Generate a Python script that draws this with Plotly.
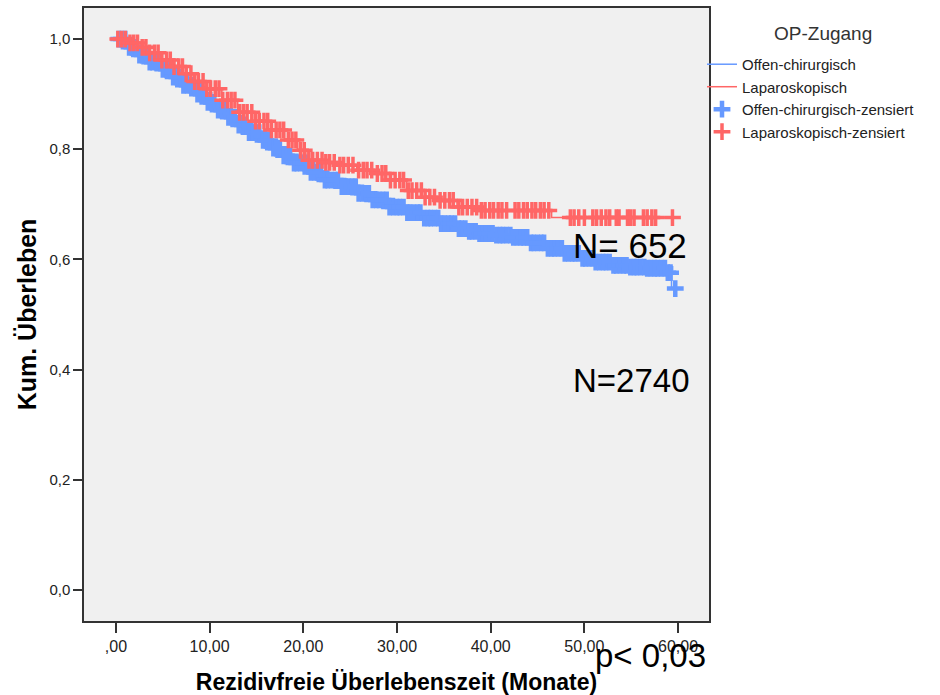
import numpy as np
import plotly.graph_objects as go

# ---- data ----
open_t = [0, 1.2, 2.4, 3.6, 4.8, 6.0, 7.2, 8.4, 9.5, 10.7, 11.9, 13.0, 14.2, 15.4, 16.6, 17.8,
          19.0, 20.5, 22.1, 23.9, 25.7, 27.4, 29.2, 31.0, 32.7, 34.5, 36.4, 37.6, 38.8, 40.5,
          42.3, 44.1, 45.9, 47.7, 49.5, 51.2, 53.0, 54.8, 56.6, 58.7, 59.3, 59.7]
open_s = [1.0, 0.985, 0.971, 0.958, 0.945, 0.931, 0.916, 0.900, 0.885, 0.871, 0.858, 0.844,
          0.830, 0.816, 0.802, 0.788, 0.775, 0.758, 0.744, 0.732, 0.720, 0.708, 0.695, 0.685,
          0.675, 0.665, 0.656, 0.651, 0.647, 0.644, 0.640, 0.630, 0.620, 0.611, 0.602, 0.595,
          0.589, 0.586, 0.584, 0.576, 0.547, 0.547]

lap_t = [0, 1.2, 2.4, 3.6, 4.8, 6.0, 7.2, 8.4, 9.5, 11.3, 13.0, 14.8, 16.6, 18.0, 19.4, 20.4,
         22.1, 23.9, 25.7, 27.4, 29.2, 31.0, 32.7, 34.5, 36.4, 38.8, 46.5, 59.5]
lap_s = [1.0, 0.993, 0.985, 0.975, 0.962, 0.950, 0.937, 0.923, 0.910, 0.889, 0.867, 0.851,
         0.835, 0.817, 0.798, 0.780, 0.776, 0.771, 0.762, 0.756, 0.744, 0.725, 0.713, 0.707,
         0.695, 0.689, 0.676, 0.676]

open_cens = [0.3, 0.6, 1.0, 1.4, 1.7, 2.1, 2.5, 2.8, 3.2, 3.6, 3.9, 4.3, 4.7, 5.0, 5.4, 5.8, 6.1,
             6.5, 6.9, 7.2, 7.6, 8.0, 8.3, 8.7, 9.1, 9.4, 9.8, 10.2, 10.5, 10.9, 11.3, 11.6, 12.0,
             12.4, 12.7, 13.1, 13.5, 13.8, 14.2, 14.6, 14.9, 15.3, 15.7, 16.0, 16.4, 16.8, 17.1,
             17.5, 17.9, 18.2, 18.6, 19.0, 19.3, 19.7, 20.1, 20.4, 20.8, 21.2, 21.5, 21.9, 22.3,
             22.6, 23.0, 23.4, 23.7, 24.1, 24.5, 24.8, 25.2, 25.6, 25.9, 26.3, 26.7, 27.0, 27.4,
             27.8, 28.1, 28.5, 28.9, 29.2, 29.6, 30.0, 30.3, 30.7, 31.1, 31.4, 31.8, 32.2, 32.5,
             32.9, 33.3, 33.6, 34.0, 34.4, 34.7, 35.1, 35.5, 35.8, 36.2, 36.6, 36.9, 37.3, 37.7,
             38.0, 38.4, 38.8, 39.1, 39.5, 39.9, 40.2, 40.6, 41.0, 41.3, 41.7, 42.1, 42.4, 42.8,
             43.2, 43.5, 43.9, 44.3, 44.6, 45.0, 45.4, 45.7, 46.1, 46.5, 46.8, 47.2, 47.6, 47.9,
             48.3, 48.7, 49.0, 49.4, 49.8, 50.1, 50.5, 50.9, 51.2, 51.6, 52.0, 52.3, 52.7, 53.1,
             53.4, 53.8, 54.2, 54.5, 54.9, 55.3, 55.6, 56.0, 56.4, 56.7, 57.1, 57.5, 57.8, 58.2,
             58.6, 58.9, 59.2, 59.7]

lap_cens = [0.2, 0.6, 1.0, 1.5, 1.9, 2.3, 2.8, 3.2, 3.6, 4.1, 4.5, 4.9, 5.4, 5.8, 6.2, 6.7, 7.1,
            7.5, 8.0, 8.4, 8.8, 9.3, 9.7, 10.1, 10.6, 11.0, 11.4, 11.9, 12.3, 12.7, 13.2, 13.6,
            14.0, 14.5, 14.9, 15.3, 15.8, 16.2, 16.6, 17.1, 17.5, 17.9, 18.4, 18.8, 19.2, 19.7,
            20.1, 20.6, 21.0, 21.5, 22.0, 22.4, 22.8, 23.3, 23.9, 24.3, 24.8, 25.3, 25.9, 26.4,
            26.8, 27.3, 27.9, 28.4, 28.8, 29.3, 29.8, 30.3, 30.7, 31.2, 31.6, 32.1, 32.6, 33.0,
            33.5, 34.0, 34.6, 35.1, 35.6, 36.0, 36.6, 37.0, 37.5, 38.0, 38.5, 39.0, 39.4, 39.9,
            40.3, 40.8, 41.2, 41.7, 42.6, 43.0, 43.5, 43.9, 44.4, 44.8, 45.3, 45.7, 46.2, 48.5,
            48.9, 49.4, 50.0, 50.9, 51.3, 51.8, 52.3, 52.7, 53.4, 53.7, 54.6, 54.9, 55.3, 56.3,
            56.7, 57.2, 57.6, 59.4]

x_tickvals = [0, 10, 20, 30, 40, 50, 60]
x_ticktext = [",00", "10,00", "20,00", "30,00", "40,00", "50,00", "60,00"]
y_tickvals = [0.0, 0.2, 0.4, 0.6, 0.8, 1.0]
y_ticktext = ["0,0", "0,2", "0,4", "0,6", "0,8", "1,0"]

BLUE = "#6699FF"
RED = "#FF6666"
FONT = "Arial, Liberation Sans, sans-serif"


def km_at(times, surv, pts):
    idx = np.searchsorted(np.array(times), np.array(pts), side="right") - 1
    return [surv[i] for i in idx]


fig = go.Figure()
fig.add_trace(go.Scatter(x=open_t, y=open_s, mode="lines", line=dict(color=BLUE, width=1.5, shape="hv"),
                         name="Offen-chirurgisch", legendrank=1))
fig.add_trace(go.Scatter(x=open_cens, y=km_at(open_t, open_s, open_cens), mode="markers",
                         marker=dict(symbol="cross-thin", size=12, line=dict(color=BLUE, width=4.5)),
                         name="Offen-chirurgisch-zensiert", legendrank=3))
fig.add_trace(go.Scatter(x=lap_t, y=lap_s, mode="lines", line=dict(color=RED, width=1.5, shape="hv"),
                         name="Laparoskopisch", legendrank=2))
fig.add_trace(go.Scatter(x=lap_cens, y=km_at(lap_t, lap_s, lap_cens), mode="markers",
                         marker=dict(symbol="cross-thin", size=12, line=dict(color=RED, width=3.5)),
                         name="Laparoskopisch-zensiert", legendrank=4))

fig.add_annotation(x=48.6, y=0.6255, xref="x", yref="y", text="N= 652", showarrow=False,
                   xanchor="left", yanchor="middle", font=dict(family=FONT, size=35, color="black"))
fig.add_annotation(x=48.6, y=0.38, xref="x", yref="y", text="N=2740", showarrow=False,
                   xanchor="left", yanchor="middle", font=dict(family=FONT, size=33, color="black"))
fig.add_annotation(x=0.8144, y=-0.0555, xref="paper", yref="paper", text="p< 0,03", showarrow=False,
                   xanchor="left", yanchor="middle", font=dict(family=FONT, size=33, color="black"))
# legend heading
fig.add_annotation(x=1.1824, y=0.9584, xref="paper", yref="paper", text="OP-Zugang", showarrow=False,
                   xanchor="center", yanchor="middle", font=dict(family=FONT, size=19, color="#333333"))

axis_common = dict(showgrid=False, zeroline=False, showline=True, mirror=True, linecolor="#333333",
                   linewidth=1.5, ticks="outside", tickwidth=1.5, tickcolor="#333333")

fig.update_layout(
    width=940, height=695,
    margin=dict(l=84, r=231, t=8, b=74),
    paper_bgcolor="white", plot_bgcolor="#F0F0F0",
    xaxis=dict(range=[-3.41, 63.3], tickvals=x_tickvals, ticktext=x_ticktext, ticklen=10,
               tickfont=dict(family=FONT, size=16, color="#222222"),
               title=dict(text="<b>Rezidivfreie Überlebenszeit (Monate)</b>", standoff=20,
                          font=dict(family=FONT, size=23, color="black")),
               automargin=False, **axis_common),
    yaxis=dict(range=[-0.0564, 1.0564], tickvals=y_tickvals, ticktext=y_ticktext, ticklen=9,
               tickfont=dict(family=FONT, size=15, color="#222222"),
               title=dict(text="<b>Kum. Überleben</b>", standoff=6,
                          font=dict(family=FONT, size=25, color="black")),
               automargin=False, **axis_common),
    legend=dict(x=0.9888, xanchor="left", y=0.9348, yanchor="top", bgcolor="rgba(0,0,0,0)",
                font=dict(family=FONT, size=15, color="#222222"),
                itemwidth=30),
    showlegend=True,
)

fig.write_html("out.html")
